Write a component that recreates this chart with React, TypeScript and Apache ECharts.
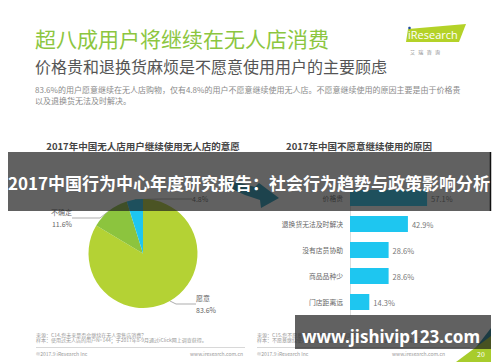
import React, { useEffect, useRef } from "react";
import * as echarts from "echarts";

const FONT = "'Noto Sans CJK SC', 'Noto Sans', sans-serif";

const pieNames = ["愿意", "不确定", "不愿意"];
const pieValues = [83.6, 11.6, 4.8];
const pieColors = ["#b4d234", "#8cc43e", "#1ec6f0"];

const barCategories = ["价格贵", "退换货无法及时解决", "没有店员协助", "商品品种少", "门店距离远"];
const barValues = [57.1, 42.9, 28.6, 28.6, 14.3];

// label placement for pie labels (layout only)
const PIE_LABEL_POS = [
  { x: 196, y: 304, padding: [0, 0, 15, 0], len2: 20 },
  { x: 72, y: 218, padding: [5, 0, 0, 0], len2: 28 },
  { x: 192, y: 199, padding: [0, 0, 0, 0], len2: 30 },
];

export default function App() {
  const ref = useRef<HTMLDivElement>(null);
  useEffect(() => {
    if (!ref.current) return;
    const chart = echarts.init(ref.current, undefined, { renderer: "svg" });
    const txt = (text: string, x: number, y: number, s: any, z = 10) => ({
      type: "text",
      x,
      y,
      z,
      style: { text, fontFamily: FONT, verticalAlign: "middle", ...s },
    });
    const option: any = {
      animation: false,
      backgroundColor: "#ffffff",
      textStyle: { fontFamily: FONT },
      grid: { left: 350, right: 15, top: 185, height: 130, containLabel: false },
      xAxis: { type: "value", min: 0, max: 100, show: false },
      yAxis: {
        type: "category",
        inverse: true,
        data: barCategories,
        axisLine: { show: true, lineStyle: { color: "#dcdcdc", width: 1 } },
        axisTick: { show: false },
        axisLabel: { fontSize: 6.8, color: "#666", margin: 7, fontFamily: FONT },
      },
      series: [
        {
          type: "bar",
          data: barValues,
          barWidth: 16,
          itemStyle: { color: "#1ec6f0" },
          label: {
            show: true,
            position: "right",
            distance: 4,
            formatter: "{c}%",
            fontSize: 7.5,
            color: "#777",
            fontFamily: FONT,
          },
        },
        {
          type: "pie",
          center: [143, 253.5],
          radius: 54.5,
          startAngle: 90,
          clockwise: true,
          data: pieNames.map((n, i) => ({
            name: n,
            value: pieValues[i],
            itemStyle: { color: pieColors[i] },
            label: { padding: PIE_LABEL_POS[i].padding },
            labelLine: { length2: PIE_LABEL_POS[i].len2 },
          })),
          label: {
            show: true,
            position: "outside",
            fontSize: 7,
            lineHeight: 12,
            color: "#666",
            fontFamily: FONT,
            formatter: (p: any) => (p.dataIndex === 2 ? `${p.value}%` : `${p.name}\n${p.value}%`),
          },
          labelLine: {
            show: true,
            length: 4,
            length2: 20,
            smooth: false,
            lineStyle: { color: "#8a8a8a", width: 0.7 },
          },
          labelLayout: (params: any) => {
            const p = PIE_LABEL_POS[params.dataIndex];
            return {
              x: p.x,
              y: p.y,
              align: params.dataIndex === 1 ? "right" : "left",
              verticalAlign: "middle",
            };
          },
        },
      ],
      graphic: [
        // header
        txt("超八成用户将继续在无人店消费", 35, 38, { fontSize: 21, fill: "#8cc63f" }),
        txt("价格贵和退换货麻烦是不愿意使用用户的主要顾虑", 35, 66, { fontSize: 16, fill: "#555" }),
        txt(
          "83.6%的用户愿意继续在无人店购物，仅有4.8%的用户不愿意继续使用无人店。不愿意继续使用的原因主要是由于价格贵",
          35,
          89,
          { fontSize: 8, fill: "#8a8a8a" }
        ),
        txt("以及退换货无法及时解决。", 35, 100, { fontSize: 8, fill: "#8a8a8a" }),
        // logo
        {
          type: "polygon",
          z: 10,
          shape: { points: [[408, 29], [466, 24], [459, 42], [406, 42]] },
          style: { fill: "#b4d228" },
        },
        txt("iResearch", 408, 34, { fontSize: 11, fill: "#fff", fontFamily: "'Open Sans', sans-serif" }, 11),
        { type: "circle", z: 12, shape: { cx: 409.5, cy: 28, r: 1.3 }, style: { fill: "#1f4e9a" } },
        txt("艾   瑞   咨   询", 410, 51, { fontSize: 5, fill: "#888" }),
        // chart titles
        txt("2017年中国无人店用户继续使用无人店的意愿", 143, 146, { fontSize: 9.5, fontWeight: "bold", fill: "#444", align: "center" }),
        txt("2017年中国不愿意继续使用的原因", 359, 146, { fontSize: 9.5, fontWeight: "bold", fill: "#444", align: "center" }),
        // arrow between charts
        {
          type: "polygon",
          z: 10,
          shape: {
            points: [[224, 180], [240, 183], [255, 187], [259, 183], [279, 198], [261, 208], [260, 200], [245, 195], [232, 189]],
          },
          style: { fill: "#1d9bbd" },
        },
        // footers
        txt("来源：C14.您未来是否会继续在无人零售店消费？", 36, 334, { fontSize: 5, fill: "#999" }),
        txt("样本：使用过无人店的用户N=144；于2017年8-9月通过iClick网上调查获得。", 36, 339.5, { fontSize: 5, fill: "#999" }),
        txt("©2017.9 iResearch Inc", 36, 353.5, { fontSize: 5, fill: "#999" }),
        txt("www.iresearch.com.cn", 243, 353.5, { fontSize: 5, fill: "#999", align: "right" }),
        { type: "line", z: 10, shape: { x1: 36, y1: 347.5, x2: 245, y2: 347.5 }, style: { stroke: "#d8d8d8", lineWidth: 1 } },
        txt("来源：C15.您不愿意继续使用无人店的原因是？", 257, 334, { fontSize: 5, fill: "#999" }),
        txt("样本：不愿意继续使用无人店的用户N=7；于2017年8-9月通过iClick网上调查获得。", 257, 339.5, { fontSize: 5, fill: "#999" }),
        txt("©2017.9 iResearch Inc", 257, 353.5, { fontSize: 5, fill: "#999" }),
        txt("www.iresearch.com.cn", 445, 353.5, { fontSize: 5, fill: "#999", align: "right" }),
        { type: "line", z: 10, shape: { x1: 257, y1: 347.5, x2: 470, y2: 347.5 }, style: { stroke: "#d8d8d8", lineWidth: 1 } },
        { type: "polygon", z: 10, shape: { points: [[474, 350], [491, 328], [491, 350]] }, style: { fill: "#157f99" } },
        { type: "polygon", z: 11, shape: { points: [[456, 362], [491, 336], [491, 362]] }, style: { fill: "#a8cc2c" } },
        txt("20", 477, 354, { fontSize: 7, fill: "#fff" }, 12),
        // overlay bands
        { type: "rect", z: 100, shape: { x: 8, y: 152, width: 483, height: 59 }, style: { fill: "rgba(30,30,30,0.7)" } },
        { type: "line", z: 101, shape: { x1: 490.5, y1: 152, x2: 490.5, y2: 211 }, style: { stroke: "#111", lineWidth: 1.5 } },
        txt("2017中国行为中心年度研究报告：社会行为趋势与政策影响分析", 249, 182.5, { fontSize: 17, fontWeight: "bold", fill: "#fff", align: "center" }, 102),
        { type: "rect", z: 100, shape: { x: 295, y: 315, width: 196, height: 34 }, style: { fill: "rgba(30,30,30,0.7)" } },
        txt("www.jishivip123.com", 391, 336.5, { fontSize: 17, fontWeight: "bold", fill: "#fff", align: "center", fontFamily: "'Noto Sans', sans-serif" }, 102),
      ],
    };
    chart.setOption(option);
    return () => chart.dispose();
  }, []);
  return (
    <div
      ref={ref}
      style={{ position: "absolute", left: 0, top: 0, width: 500, height: 362 }}
    />
  );
}
